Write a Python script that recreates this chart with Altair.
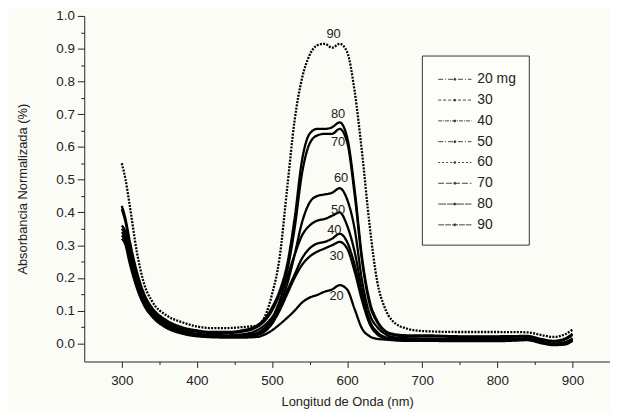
import altair as alt
import pandas as pd

# ---- data ----
wavelength = [300, 305, 310, 320, 330, 340,
              360, 380, 400, 420, 440, 460,
              480, 490, 500, 510, 520, 530, 540, 550, 560, 570, 580, 590,
              600, 610, 620, 630, 640, 650, 660, 680,
              700, 750, 800, 840, 860, 875, 890, 900]

series_names = ["20 mg", "30", "40", "50", "60", "70", "80", "90"]

s20 = [0.32, 0.30, 0.25, 0.17, 0.115, 0.083,
       0.047, 0.030, 0.022, 0.019, 0.018, 0.018,
       0.020, 0.027, 0.040, 0.058, 0.078, 0.100, 0.125, 0.140, 0.148, 0.158, 0.165, 0.178,
       0.165, 0.105, 0.045, 0.022, 0.014, 0.012, 0.010, 0.008,
       0.008, 0.007, 0.007, 0.010, 0.000, -0.005, -0.003, 0.008]
s30 = [0.33, 0.31, 0.26, 0.175, 0.12, 0.087,
       0.050, 0.032, 0.024, 0.020, 0.020, 0.021,
       0.026, 0.036, 0.060, 0.100, 0.150, 0.200, 0.240, 0.265, 0.280, 0.290, 0.300, 0.310,
       0.290, 0.220, 0.130, 0.060, 0.028, 0.016, 0.012, 0.010,
       0.010, 0.009, 0.009, 0.011, 0.002, -0.004, -0.002, 0.010]
s40 = [0.34, 0.32, 0.27, 0.18, 0.125, 0.090,
       0.052, 0.034, 0.026, 0.022, 0.021, 0.022,
       0.028, 0.040, 0.065, 0.110, 0.160, 0.210, 0.260, 0.290, 0.305, 0.310, 0.320, 0.335,
       0.310, 0.240, 0.140, 0.065, 0.030, 0.018, 0.014, 0.012,
       0.012, 0.011, 0.011, 0.013, 0.003, -0.003, 0.000, 0.012]
s50 = [0.35, 0.33, 0.28, 0.19, 0.13, 0.095,
       0.055, 0.037, 0.028, 0.024, 0.023, 0.025,
       0.032, 0.047, 0.075, 0.130, 0.200, 0.270, 0.330, 0.360, 0.375, 0.380, 0.390, 0.400,
       0.360, 0.280, 0.160, 0.070, 0.035, 0.020, 0.016, 0.013,
       0.013, 0.012, 0.012, 0.014, 0.004, -0.002, 0.002, 0.014]
s60 = [0.36, 0.34, 0.29, 0.20, 0.14, 0.10,
       0.060, 0.040, 0.030, 0.026, 0.025, 0.028,
       0.040, 0.055, 0.080, 0.120, 0.180, 0.270, 0.370, 0.430, 0.450, 0.455, 0.460, 0.474,
       0.440, 0.350, 0.190, 0.090, 0.050, 0.030, 0.020, 0.016,
       0.015, 0.014, 0.014, 0.016, 0.006, 0.000, 0.004, 0.016]
s70 = [0.41, 0.37, 0.31, 0.21, 0.145, 0.105,
       0.065, 0.045, 0.036, 0.032, 0.032, 0.036,
       0.050, 0.068, 0.100, 0.150, 0.220, 0.350, 0.520, 0.610, 0.635, 0.640, 0.640, 0.655,
       0.615, 0.455, 0.250, 0.120, 0.065, 0.037, 0.027, 0.022,
       0.022, 0.020, 0.020, 0.021, 0.011, 0.006, 0.012, 0.026]
s80 = [0.42, 0.38, 0.32, 0.22, 0.15, 0.11,
       0.070, 0.050, 0.040, 0.035, 0.035, 0.040,
       0.055, 0.075, 0.110, 0.160, 0.240, 0.380, 0.560, 0.640, 0.655, 0.655, 0.660, 0.675,
       0.630, 0.470, 0.260, 0.130, 0.070, 0.040, 0.030, 0.025,
       0.025, 0.022, 0.022, 0.023, 0.013, 0.008, 0.015, 0.030]
s90 = [0.55, 0.50, 0.43, 0.28, 0.18, 0.13,
       0.085, 0.065, 0.052, 0.047, 0.047, 0.050,
       0.055, 0.080, 0.150, 0.260, 0.470, 0.680, 0.810, 0.880, 0.910, 0.915, 0.903, 0.915,
       0.890, 0.770, 0.580, 0.360, 0.190, 0.110, 0.070, 0.045,
       0.038, 0.035, 0.035, 0.034, 0.025, 0.020, 0.028, 0.042]
series_values = [s20, s30, s40, s50, s60, s70, s80, s90]

label_text = ["90", "80", "70", "60", "50", "40", "30", "20"]
label_x = [582, 588, 588, 592, 588, 583, 586, 586]
label_y = [0.945, 0.700, 0.616, 0.505, 0.408, 0.347, 0.266, 0.145]

y_major = [round(0.1 * i, 1) for i in range(11)]
y_minor = [round(0.05 + 0.1 * i, 2) for i in range(10)]
x_major = [300, 400, 500, 600, 700, 800, 900]
x_minor = [350, 450, 550, 650, 750, 850, 950]

# ---- tables ----
rows = []
for name, vals in zip(series_names, series_values):
    for w, v in zip(wavelength, vals):
        rows.append({"series": name, "wl": w, "val": v})
df = pd.DataFrame(rows)
labels_df = pd.DataFrame({"t": label_text, "x": label_x, "y": label_y})

FONT = "Liberation Sans"
INK = "#222"
X_DOM = [250, 950]
Y_DOM = [-0.055, 1.0]


def xs():
    return alt.Scale(domain=X_DOM, nice=False, zero=False)


def ys():
    return alt.Scale(domain=Y_DOM, nice=False, zero=False)


dash_range = [[5, 2, 1, 2], [3, 2], [4, 1, 1, 1], [5, 2, 1, 2], [2, 2], [6, 2], [8, 1], [6, 1]]

lines = alt.Chart(df).mark_line(
    color="black", strokeWidth=2.3, interpolate="monotone"
).encode(
    x=alt.X("wl:Q", scale=xs(),
            axis=alt.Axis(values=x_major, title="Longitud de Onda (nm)", grid=False, orient="bottom",
                          tickSize=6, labelFontSize=13.5, titleFontSize=13,
                          titleFontWeight="normal", labelPadding=6, titlePadding=9,
                          domainColor=INK, tickColor=INK, labelColor=INK,
                          titleColor=INK, labelFont=FONT, titleFont=FONT)),
    y=alt.Y("val:Q", scale=ys(),
            axis=alt.Axis(values=y_major, format=".1f", title="Absorbancia Normalizada (%)",
                          grid=False, tickSize=7, labelFontSize=13.5, titleFontSize=13, orient="left",
                          titleFontWeight="normal", labelPadding=3, titlePadding=27,
                          domainColor=INK, tickColor=INK, labelColor=INK,
                          titleColor=INK, labelFont=FONT, titleFont=FONT)),
    detail="series:N",
    strokeDash=alt.condition("datum.series == '90'", alt.value([2, 1.3]), alt.value([1, 0])),
)

legend_layer = alt.Chart(df).mark_line(opacity=0).encode(
    x=alt.X("wl:Q", scale=xs(),
            axis=alt.Axis(values=x_minor, labels=False, title=None, domain=False, orient="bottom",
                          grid=False, tickSize=3, tickColor=INK)),
    y=alt.Y("val:Q", scale=ys(),
            axis=alt.Axis(values=y_minor, labels=False, title=None, domain=False, orient="left",
                          grid=False, tickSize=3.5, tickColor=INK)),
    strokeDash=alt.StrokeDash(
        "series:N",
        scale=alt.Scale(domain=series_names, range=dash_range),
        legend=alt.Legend(
            title=None, orient="none", legendX=341, legendY=40,
            symbolType="M-1,0H2.2M0.5,0a0.1,0.1 0 1,0 0.2,0a0.1,0.1 0 1,0 -0.2,0",
            symbolSize=441, symbolStrokeWidth=1, symbolStrokeColor="#444",
            symbolFillColor="#111", symbolOpacity=1, symbolOffset=3,
            labelFontSize=14, labelFont=FONT, labelColor=INK, labelOffset=18,
            rowPadding=3, padding=13, strokeColor="#333", fillColor="#fdfdf9",
            cornerRadius=0,
        ),
    ),
)

texts = alt.Chart(labels_df).mark_text(
    font=FONT, fontSize=13, color=INK
).encode(x=alt.X("x:Q", scale=xs(), axis=None),
         y=alt.Y("y:Q", scale=ys(), axis=None),
         text="t:N")

chart = alt.layer(lines, legend_layer, texts).resolve_scale(
    x="independent", y="independent"
).properties(
    width=531, height=349,
    autosize=alt.AutoSizeParams(type="none"),
    padding={"left": 77, "top": 6, "right": 0, "bottom": 49},
    background="#fcfcf7",
).configure_view(stroke=None)

chart.save("out.html", embed_options={"renderer": "svg", "actions": False})
